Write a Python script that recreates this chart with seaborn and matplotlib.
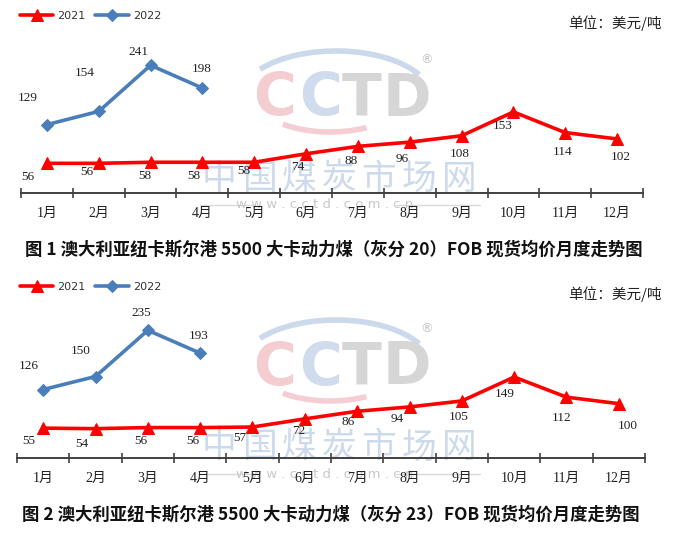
import numpy as np
import pandas as pd
import matplotlib
matplotlib.use("Agg")
import matplotlib.pyplot as plt
from matplotlib.patches import Arc
import seaborn as sns

# data
months = ["1月", "2月", "3月", "4月", "5月", "6月", "7月", "8月", "9月", "10月", "11月", "12月"]
fob_2021_ash20 = [56, 56, 58, 58, 58, 74, 88, 96, 108, 153, 114, 102]
fob_2022_ash20 = [129, 154, 241, 198]
fob_2021_ash23 = [55, 54, 56, 56, 57, 72, 86, 94, 105, 149, 112, 100]
fob_2022_ash23 = [126, 150, 235, 193]

captions = [
    "图 1 澳大利亚纽卡斯尔港 5500 大卡动力煤（灰分 20）FOB 现货均价月度走势图",
    "图 2 澳大利亚纽卡斯尔港 5500 大卡动力煤（灰分 23）FOB 现货均价月度走势图",
]
unit_text = "单位：美元/吨"

# label offsets in pixels (dx right, dy down)
off_2021_a = [(-19, 14), (-12, 9), (-6, 14), (-9, 14), (-10, 9), (-8, 13),
              (-7, 15), (-8, 17), (-2, 18), (-11, 14), (-3, 19), (4, 18)]
off_2022_a = [(-19, -27), (-14, -38), (-12, -13), (-1, -19)]
off_2021_b = [(-14, 13), (-14, 15), (-7, 13), (-7, 13), (-13, 11), (-6, 12),
              (-9, 11), (-12, 12), (-3, 16), (-9, 17), (-5, 21), (9, 22)]
off_2022_b = [(-14, -24), (-15, -25), (-7, -17), (-2, -17)]

RED = "#FF0000"
BLUE = "#4A7EBB"
W, H = 675, 536

sns.set_theme(style="white")
plt.rcParams["font.family"] = ["Liberation Serif", "Noto Sans CJK SC", "DejaVu Sans"]
CJK = ["Noto Sans CJK SC", "DejaVu Sans"]

fig = plt.figure(figsize=(W / 100, H / 100), dpi=100)

# background layer in pixel coordinates for watermark and captions
bg = fig.add_axes([0, 0, 1, 1], zorder=0)
bg.set_xlim(0, W)
bg.set_ylim(H, 0)
bg.axis("off")


def watermark(y0):
    # y0 = vertical centre of the CCTD letters
    letters = [("C", 275, "#F4CDD1"), ("C", 321, "#D0DBEE"), ("T", 362, "#D6D6D6"), ("D", 407, "#D6D6D6")]
    for ch, x, c in letters:
        bg.text(x, y0, ch, fontsize=42, color=c, ha="center", va="center",
                family="DejaVu Sans", weight="bold")
    bg.add_patch(Arc((336, y0 - 2), 190, 92, theta1=200, theta2=345, color="#CCD8EB", lw=4))
    bg.add_patch(Arc((330, y0 - 2), 150, 70, theta1=40, theta2=150, color="#F4CED2", lw=4))
    bg.text(427, y0 - 39, "®", fontsize=9, color="#C4C4C4", ha="center", va="center", family="DejaVu Sans")
    for i, ch in enumerate("中国煤炭市场网"):
        bg.text(219 + 40 * i, y0 + 80, ch, fontsize=25, color="#CCDAEC",
                ha="center", va="center", family=CJK)
    bg.text(325, y0 + 106, "w w w . c c t d . c o m . c n", fontsize=9.5, color="#C8C8C8",
            ha="center", va="center", family="DejaVu Sans")
    bg.plot([200, 255], [y0 + 106, y0 + 106], color="#DADADA", lw=1)
    bg.plot([396, 480], [y0 + 106, y0 + 106], color="#DADADA", lw=1)


watermark(99)
watermark(368)

bg.text(25, 250, captions[0], fontsize=12.5, weight="bold", family=CJK, ha="left", va="center", color="#111111")
bg.text(22, 515, captions[1], fontsize=12.5, weight="bold", family=CJK, ha="left", va="center", color="#111111")
bg.text(662, 23, unit_text, fontsize=10.5, family=CJK, ha="right", va="center", color="#222222")
bg.text(662, 294, unit_text, fontsize=10.5, family=CJK, ha="right", va="center", color="#222222")


def draw_panel(rect, v21, v22, off21, off22, legend_y):
    ax = fig.add_axes(rect, zorder=1)
    ax.patch.set_alpha(0)
    df21 = pd.DataFrame({"m": np.arange(len(v21)), "v": v21})
    df22 = pd.DataFrame({"m": np.arange(len(v22)), "v": v22})
    sns.lineplot(data=df21, x="m", y="v", ax=ax, color=RED, lw=2.6, marker="^", markersize=8,
                 markeredgecolor=RED, label="2021")
    sns.lineplot(data=df22, x="m", y="v", ax=ax, color=BLUE, lw=2.6, marker="D", markersize=6.5,
                 markeredgecolor=BLUE, label="2022")

    for i, v in enumerate(v21):
        dx, dy = off21[i]
        ax.annotate(str(v), (i, v), xytext=(dx, -dy), textcoords="offset pixels",
                    ha="center", va="center", fontsize=9.5, color="#222222")
    for i, v in enumerate(v22):
        dx, dy = off22[i]
        ax.annotate(str(v), (i, v), xytext=(dx, -dy), textcoords="offset pixels",
                    ha="center", va="center", fontsize=9.5, color="#222222")

    ax.set_xlim(-0.5, len(months) - 0.5)
    ax.set_ylim(0, 300)
    ax.set_xlabel("")
    ax.set_ylabel("")
    ax.set_yticks([])
    ax.set_xticks(np.arange(len(months)), labels=months)
    ax.set_xticks(np.arange(-0.5, len(months)), minor=True)
    ax.tick_params(axis="x", which="major", length=0, pad=10, labelsize=10, labelcolor="#222222")
    ax.tick_params(axis="x", which="minor", length=7, width=1.2, direction="inout",
                   color="#404040", bottom=True)
    for s in ["left", "right", "top"]:
        ax.spines[s].set_visible(False)
    ax.spines["bottom"].set_color("#404040")
    ax.spines["bottom"].set_linewidth(1.4)

    ax.legend(loc="center left", bbox_to_anchor=(20 / W, 1 - legend_y / H),
              bbox_transform=fig.transFigure, ncol=2, frameon=False,
              handlelength=3.0, handletextpad=0.35, columnspacing=0.9,
              borderpad=0, borderaxespad=0, labelcolor="#333333", prop={"family": "DejaVu Sans", "size": 8})
    return ax


draw_panel([21 / W, (H - 193) / H, 622 / W, 159 / H],
           fob_2021_ash20, fob_2022_ash20, off_2021_a, off_2022_a, 16)
draw_panel([17 / W, (H - 458) / H, 628 / W, 163 / H],
           fob_2021_ash23, fob_2022_ash23, off_2021_b, off_2022_b, 287)

fig.savefig("out.png", dpi=100)
